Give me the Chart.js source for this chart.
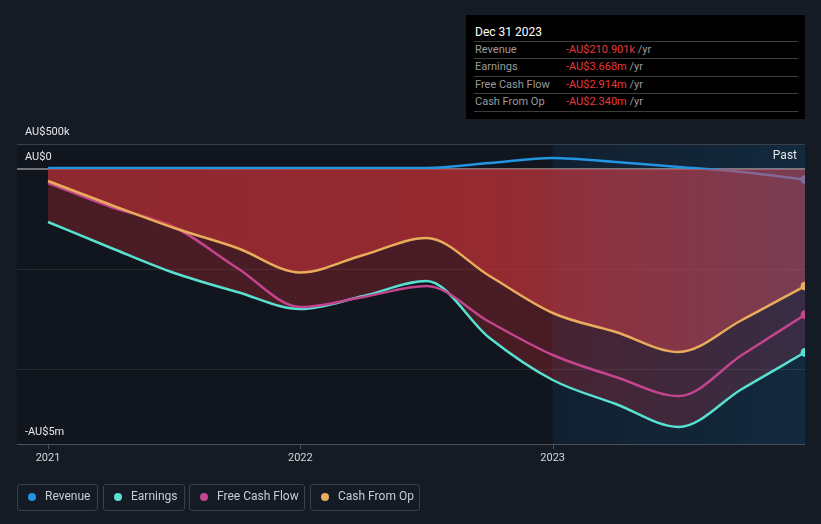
<!DOCTYPE html>
<html>
<head>
<meta charset="utf-8">
<script src="https://cdn.jsdelivr.net/npm/chart.js@4/dist/chart.umd.min.js"></script>
<style>
  html, body { margin:0; padding:0; background:#151b25; width:821px; height:524px; overflow:hidden; font-family: Roboto, "Open Sans", sans-serif; }
  #wrap { position:relative; width:821px; height:524px; }
  canvas { position:absolute; left:0; top:0; }
  #tip { position:absolute; left:466px; top:15px; width:339px; height:104px; background:#000; }
  #tip .title { position:absolute; left:9px; top:10px; font-size:12px; color:#fff; }
  #tip .sep { position:absolute; left:8px; width:324px; height:1px; background:#3d3d3d; }
  #tip .row { position:absolute; left:9px; font-size:11px; color:#9b9b9b; line-height:14px; }
  #tip .val { position:absolute; left:100px; font-size:11px; line-height:14px; color:#e8383d; white-space:nowrap; }
  #tip .val span { color:#9b9b9b; }
  #legend { position:absolute; left:17px; top:484px; height:27px; }
  .lg { position:absolute; top:0; border:1px solid #3a404a; border-radius:3px; box-sizing:border-box; height:27px; font-size:12px; color:#c9ccd1; line-height:23px; white-space:nowrap; }
  .lg i { position:absolute; left:10px; top:8px; width:8px; height:8px; border-radius:50%; }
  .lg b { position:absolute; left:27px; font-weight:normal; }
</style>
</head>
<body>
<div id="wrap">
  <canvas id="c" width="821" height="524"></canvas>
  <div id="tip"></div>
  <div id="legend"></div>
</div>
<script>
// ---- data (AU$ millions) ----
const periods   = [2021.0, 2021.25, 2021.5, 2021.75, 2022.0, 2022.25, 2022.5, 2022.75, 2023.0, 2023.25, 2023.5, 2023.75, 2024.0];
const revenue   = [0.02, 0.02, 0.02, 0.02, 0.02, 0.02, 0.02, 0.12, 0.22, 0.14, 0.04, -0.06, -0.211];
const earnings  = [-1.06, -1.58, -2.08, -2.46, -2.80, -2.54, -2.24, -3.38, -4.22, -4.70, -5.16, -4.40, -3.668];
const freeCashFlow = [-0.28, -0.76, -1.16, -1.98, -2.76, -2.56, -2.34, -3.06, -3.72, -4.16, -4.54, -3.72, -2.914];
const cashFromOp   = [-0.24, -0.72, -1.18, -1.58, -2.07, -1.72, -1.38, -2.14, -2.88, -3.26, -3.66, -3.02, -2.340];
const seriesNames  = ['Revenue', 'Earnings', 'Free Cash Flow', 'Cash From Op'];
const seriesColors = ['#2394df', '#58e0d0', '#c2458e', '#e9ac5c'];
const xTickValues  = [2021, 2022, 2023];
const xTickLabels  = ['2021', '2022', '2023'];
const yTickValues  = [0.5, 0, -5.5];
const yTickLabels  = ['AU$500k', 'AU$0', '-AU$5m'];
const yGridValues  = [-2, -4];
const pastStart    = 2023;
const tipTitle     = 'Dec 31 2023';
const tipValues    = ['-AU$210.901k', '-AU$3.668m', '-AU$2.914m', '-AU$2.340m'];

// ---- tooltip box ----
const tip = document.getElementById('tip');
let th = '<div class="title">' + tipTitle + '</div>';
const sepY = [26, 43, 61, 78, 96];
sepY.forEach(y => th += '<div class="sep" style="top:' + y + 'px"></div>');
seriesNames.forEach((n, i) => {
  const top = sepY[i] + 2;
  th += '<div class="row" style="top:' + top + 'px">' + n + '</div>';
  th += '<div class="val" style="top:' + top + 'px">' + tipValues[i] + ' <span>/yr</span></div>';
});
tip.innerHTML = th;

// ---- legend ----
const lg = document.getElementById('legend');
const lgLeft = [0, 86, 172, 293], lgW = [81, 82, 116, 110];
let lh = '';
seriesNames.forEach((n, i) => {
  lh += '<div class="lg" style="left:' + lgLeft[i] + 'px;width:' + lgW[i] + 'px"><i style="background:' + seriesColors[i] + '"></i><b>' + n + '</b></div>';
});
lg.innerHTML = lh;

const pts = arr => arr.map((v, i) => ({x: periods[i], y: v}));
const lastIdx = periods.length - 1;
const endRadius = c => c.dataIndex === lastIdx ? 4 : 0;

function hGrad(chart, stops) {
  const a = chart.chartArea;
  if (!a) return 'rgba(0,0,0,0)';
  const g = chart.ctx.createLinearGradient(a.left, 0, a.right, 0);
  stops.forEach(s => g.addColorStop(s[0], s[1]));
  return g;
}

const decor = {
  id: 'decor',
  beforeDatasetsDraw(chart) {
    const {ctx, chartArea: a, scales: {x, y}} = chart;
    const px = x.getPixelForValue(pastStart);
    ctx.save();
    ctx.fillStyle = '#11161e';
    ctx.fillRect(a.left, a.top, px - a.left, a.bottom - a.top);
    const g = ctx.createLinearGradient(px, 0, a.right, 0);
    g.addColorStop(0, '#112030'); g.addColorStop(1, '#13293d');
    ctx.fillStyle = g;
    ctx.fillRect(px, a.top, a.right - px, a.bottom - a.top);
    ctx.strokeStyle = '#3a404a'; ctx.lineWidth = 1;
    ctx.beginPath(); ctx.moveTo(a.left, a.top + 0.5); ctx.lineTo(a.right, a.top + 0.5); ctx.stroke();
    ctx.strokeStyle = 'rgba(255,255,255,0.09)';
    yGridValues.forEach(v => {
      const yy = Math.round(y.getPixelForValue(v)) + 0.5;
      ctx.beginPath(); ctx.moveTo(a.left, yy); ctx.lineTo(a.right, yy); ctx.stroke();
    });
    const y0 = y.getPixelForValue(0);
    ctx.strokeStyle = 'rgba(242,242,242,0.85)'; ctx.lineWidth = 1.2;
    ctx.beginPath(); ctx.moveTo(a.left, y0); ctx.lineTo(a.right, y0); ctx.stroke();
    ctx.strokeStyle = '#4a505a'; ctx.lineWidth = 1;
    ctx.beginPath(); ctx.moveTo(a.left, a.bottom + 0.5); ctx.lineTo(a.right, a.bottom + 0.5); ctx.stroke();
    xTickValues.forEach(v => {
      const xx = Math.round(x.getPixelForValue(v)) + 0.5;
      ctx.beginPath(); ctx.moveTo(xx, a.bottom); ctx.lineTo(xx, a.bottom + 5); ctx.stroke();
    });
    ctx.restore();
  },
  afterDraw(chart) {
    const {ctx, chartArea: a, scales: {x, y}} = chart;
    ctx.save();
    ctx.font = '11px Roboto, sans-serif';
    ctx.fillStyle = '#e6e6e6';
    ctx.textBaseline = 'middle';
    ctx.textAlign = 'left';
    yTickValues.forEach((v, i) => {
      ctx.fillText(yTickLabels[i], a.left + 8, y.getPixelForValue(v) - 12);
    });
    ctx.textAlign = 'center';
    ctx.fillStyle = '#d6d6d6';
    xTickValues.forEach((v, i) => {
      ctx.fillText(xTickLabels[i], x.getPixelForValue(v), a.bottom + 14);
    });
    ctx.textAlign = 'right';
    ctx.fillStyle = '#e6e6e6';
    ctx.font = '12px Roboto, sans-serif';
    ctx.fillText('Past', a.right - 8, a.top + 12);
    ctx.restore();
  }
};

new Chart(document.getElementById('c'), {
  type: 'line',
  data: {
    datasets: [
      { label: seriesNames[0], data: pts(revenue), borderColor: seriesColors[0], order: 4, fill: false,
        pointBackgroundColor: seriesColors[0] },
      { label: seriesNames[1], data: pts(earnings), borderColor: seriesColors[1], order: 3, fill: 'origin',
        pointBackgroundColor: seriesColors[1],
        backgroundColor: c => hGrad(c.chart, [[0, 'rgba(200,40,50,0.31)'], [0.64, 'rgba(200,40,50,0.31)'], [1, 'rgba(200,60,95,0.2)']]) },
      { label: seriesNames[2], data: pts(freeCashFlow), borderColor: seriesColors[2], order: 2, fill: false,
        pointBackgroundColor: seriesColors[2] },
      { label: seriesNames[3], data: pts(cashFromOp), borderColor: seriesColors[3], order: 1, fill: 'origin',
        pointBackgroundColor: seriesColors[3],
        backgroundColor: c => hGrad(c.chart, [[0, 'rgba(190,50,55,0.58)'], [0.6, 'rgba(195,50,55,0.62)'], [1, 'rgba(200,80,100,0.45)']]) }
    ]
  },
  options: {
    responsive: false,
    animation: false,
    devicePixelRatio: 1,
    layout: { padding: { left: 17, right: 16, top: 144, bottom: 80 } },
    elements: {
      line: { borderWidth: 2.5, cubicInterpolationMode: 'monotone' },
      point: { radius: endRadius, hoverRadius: endRadius, borderColor: '#e8e8e8', borderWidth: 1 }
    },
    scales: {
      x: { type: 'linear', display: false, min: 2020.877, max: 2024.0 },
      y: { display: false, min: -5.5, max: 0.5 }
    },
    plugins: { legend: { display: false }, tooltip: { enabled: false } }
  },
  plugins: [decor]
});
</script>
</body>
</html>
